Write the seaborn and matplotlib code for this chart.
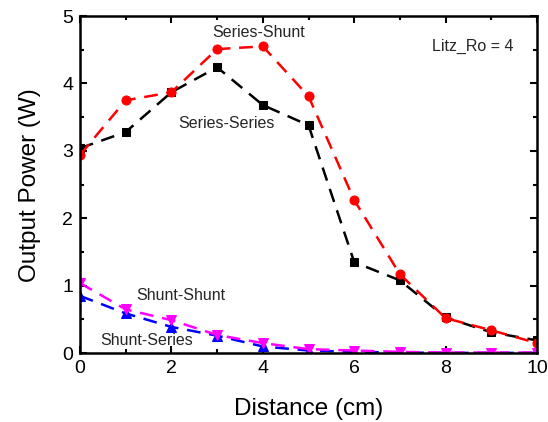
import numpy as np
import matplotlib
matplotlib.use("Agg")
import matplotlib.pyplot as plt
import seaborn as sns
from matplotlib.ticker import MultipleLocator

distance = [0, 1, 2, 3, 4, 5, 6, 7, 8, 9, 10]
series_series = [3.04, 3.28, 3.87, 4.24, 3.68, 3.38, 1.35, 1.08, 0.53, 0.31, 0.19]
series_shunt = [2.94, 3.75, 3.87, 4.51, 4.55, 3.81, 2.27, 1.17, 0.52, 0.34, 0.15]
shunt_shunt = [1.04, 0.65, 0.49, 0.27, 0.15, 0.06, 0.04, 0.02, 0.01, 0.01, 0.01]
shunt_series = [0.85, 0.59, 0.39, 0.26, 0.10, 0.04, 0.02, 0.01, 0.005, 0.005, 0.005]

sns.set_style("ticks")
plt.rcParams['font.family'] = ['Liberation Sans', 'DejaVu Sans']

fig = plt.figure(figsize=(5.48, 4.22), dpi=100)
ax = fig.add_axes([0.146, 0.163, 0.834, 0.799])

curves = [
    (series_series, 'black', 's', 5.5),
    (series_shunt, 'red', 'o', 6.5),
    (shunt_series, 'blue', '^', 6.5),
    (shunt_shunt, 'magenta', 'v', 6.5),
]
for vals, col, mk, ms in curves:
    sns.lineplot(x=distance, y=vals, ax=ax, color=col, marker=mk, markersize=ms,
                 markeredgecolor=col, linestyle=(0, (5.5, 3.5)), linewidth=1.8)

ax.set_xlim(0, 10)
ax.set_ylim(0, 5)
ax.xaxis.set_major_locator(MultipleLocator(2))
ax.xaxis.set_minor_locator(MultipleLocator(1))
ax.yaxis.set_major_locator(MultipleLocator(1))
ax.yaxis.set_minor_locator(MultipleLocator(0.5))
ax.tick_params(which='both', direction='in', top=True, right=True, width=1.5,
               color='black', labelcolor='black')
ax.tick_params(which='major', length=5, labelsize=14, pad=5)
ax.tick_params(which='minor', length=3)
for s in ax.spines.values():
    s.set_linewidth(1.8)
    s.set_color('black')

ax.set_xlabel('Distance (cm)', fontsize=17.5, color='black', labelpad=15)
ax.set_ylabel('Output Power (W)', fontsize=17.5, color='black', labelpad=15)

ax.text(3.9, 4.76, 'Series-Shunt', fontsize=11.5, ha='center', va='center')
ax.text(3.2, 3.4, 'Series-Series', fontsize=11.5, ha='center', va='center')
ax.text(2.2, 0.86, 'Shunt-Shunt', fontsize=11.5, ha='center', va='center')
ax.text(1.45, 0.19, 'Shunt-Series', fontsize=11.5, ha='center', va='center')
ax.text(8.6, 4.55, 'Litz_Ro = 4', fontsize=11.5, ha='center', va='center')

fig.savefig('out.png', dpi=100)
